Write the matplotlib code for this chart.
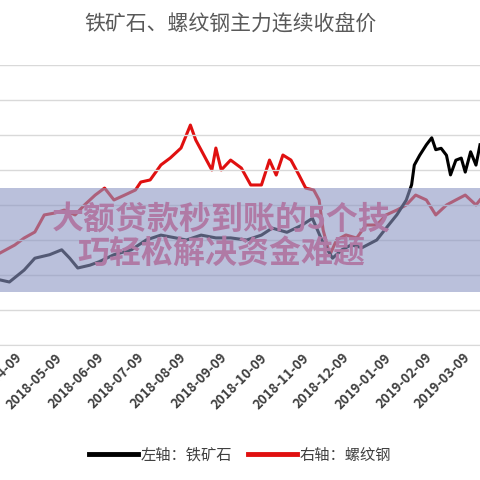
import matplotlib
matplotlib.use("Agg")
import matplotlib.pyplot as plt
import pandas as pd
from matplotlib.patches import Rectangle
from matplotlib.lines import Line2D

plt.rcParams['font.family'] = ['Noto Sans CJK SC', 'DejaVu Sans']

title = "铁矿石、螺纹钢主力连续收盘价"
iron_label = "左轴：铁矿石"
rebar_label = "右轴：螺纹钢"
banner = "大额贷款秒到账的5个技\n巧轻松解决资金难题"

iron_dates = ["2018-03-29","2018-04-05","2018-04-16","2018-04-24","2018-05-05","2018-05-14","2018-05-20","2018-05-26",
              "2018-06-04","2018-06-11","2018-06-22","2018-07-05","2018-07-16","2018-07-27","2018-08-07","2018-08-15",
              "2018-08-26","2018-09-06","2018-09-17","2018-09-29","2018-10-10","2018-10-18","2018-10-29","2018-11-09",
              "2018-11-17","2018-11-24","2018-12-02","2018-12-09","2018-12-16","2018-12-24","2019-01-04","2019-01-11",
              "2019-01-19","2019-01-26","2019-01-30","2019-02-01","2019-02-05","2019-02-10","2019-02-14","2019-02-17",
              "2019-02-21","2019-02-25","2019-02-28","2019-03-04","2019-03-08","2019-03-11","2019-03-15","2019-03-19","2019-03-22"]
iron_vals = [443,440,457,474,479,486,474,460,464,469,479,486,500,507,503,500,507,503,503,500,
             507,517,511,521,531,500,474,486,493,489,500,517,536,557,579,607,621,636,646,629,
             631,621,593,614,617,597,626,607,636]

rebar_dates = ["2018-03-29","2018-04-09","2018-04-16","2018-04-24","2018-05-01","2018-05-09","2018-05-16","2018-05-24",
               "2018-05-31","2018-06-08","2018-06-15","2018-06-22","2018-06-30","2018-07-08","2018-07-12","2018-07-19",
               "2018-07-27","2018-08-03","2018-08-11","2018-08-15","2018-08-18","2018-08-22","2018-08-26","2018-08-30",
               "2018-09-03","2018-09-06","2018-09-10","2018-09-17","2018-09-25","2018-10-02","2018-10-10","2018-10-16",
               "2018-10-21","2018-10-26","2018-11-01","2018-11-07","2018-11-12","2018-11-18","2018-11-22","2018-11-25",
               "2018-11-30","2018-12-05","2018-12-12","2018-12-20","2018-12-27","2019-01-04","2019-01-11","2019-01-19",
               "2019-01-26","2019-02-02","2019-02-10","2019-02-17","2019-02-25","2019-03-04","2019-03-11","2019-03-19","2019-03-22"]
rebar_vals = [3457,3514,3564,3607,3729,3743,3764,3729,3800,3871,3921,3836,3871,3907,3964,3979,
              4086,4136,4207,4300,4371,4264,4193,4121,4050,4207,4050,4121,4064,3943,3943,4121,
              4014,4157,4121,4014,3921,3907,3836,3621,3443,3550,3586,3564,3657,3657,3729,3764,
              3800,3871,3836,3729,3800,3836,3871,3800,3836]

tick_labels = ["2018-04-09","2018-05-09","2018-06-09","2018-07-09","2018-08-09","2018-09-09","2018-10-09",
               "2018-11-09","2018-12-09","2019-01-09","2019-02-09","2019-03-09"]

fig = plt.figure(figsize=(4.8, 4.8), dpi=100)
ax = fig.add_axes([0.0, 1 - 345/480, 1.0, (345 - 65)/480])
ax2 = ax.twinx()

ax2.plot(pd.to_datetime(rebar_dates), rebar_vals, color='#e01010', lw=2.2, zorder=2)
ax.plot(pd.to_datetime(iron_dates), iron_vals, color='black', lw=2.2, zorder=3)
ax.set_zorder(ax2.get_zorder() + 1)
ax.patch.set_visible(False)

ax.set_ylim(350, 750)
ax2.set_ylim(2800, 4800)
ax.set_yticks(range(350, 751, 50))
ax.grid(axis='y', color='#d9d9d9', lw=1)
ax.set_axisbelow(True)
for a in (ax, ax2):
    for s in a.spines.values():
        s.set_visible(False)
    a.tick_params(axis='y', length=0, labelleft=False, labelright=False)
ax.spines['bottom'].set_visible(True)
ax.spines['bottom'].set_color('#d9d9d9')

ax.set_xticks(pd.to_datetime(tick_labels))
ax.set_xticklabels(tick_labels, rotation=45, ha='right', rotation_mode='anchor',
                   fontsize=9.5, color='#404040', fontweight='bold')
ax.tick_params(axis='x', length=0, pad=4)
xl = (pd.Timestamp("2018-03-29"), pd.Timestamp("2019-03-22"))
ax.set_xlim(*xl)
ax2.set_xlim(*xl)

fig.text(0.48, 0.948, title, ha='center', va='center', fontsize=15, color='#595959')

h1 = Line2D([], [], color='black', lw=3.5)
h2 = Line2D([], [], color='#e01010', lw=3.5)
fig.legend([h1, h2], [iron_label, rebar_label], loc='center', bbox_to_anchor=(0.5, 0.052),
           ncol=2, frameon=False, fontsize=11, handlelength=3.2, handletextpad=0.2,
           columnspacing=1.0, labelcolor='#404040')

fig.add_artist(Rectangle((0, 1 - 292/480), 1, 104/480, transform=fig.transFigure,
                         facecolor='#8c96c3', alpha=0.6, edgecolor='none', zorder=10))
fig.text(0.46, 1 - 237/480, banner, ha='center', va='center', fontsize=23, fontweight='bold',
         color='#b07aa5', linespacing=1.1, zorder=11)

fig.savefig("out.png", dpi=100)
